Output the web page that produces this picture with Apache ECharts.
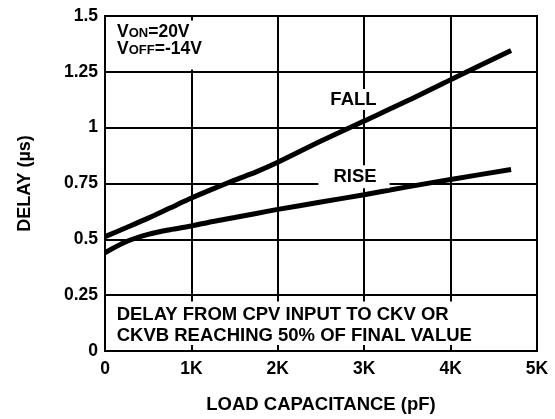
<!DOCTYPE html>
<html>
<head>
<meta charset="utf-8">
<script src="https://cdn.jsdelivr.net/npm/echarts@6/dist/echarts.min.js"></script>
<style>
  html, body { margin: 0; padding: 0; background: #fff; }
  #chart { width: 555px; height: 419px; }
</style>
</head>
<body>
<div id="chart"></div>
<script>
// load capacitance (pF) and delay (us)
const capacitance = [0, 250, 500, 750, 1000, 1250, 1500, 1750, 2000, 2500, 3000, 3500, 4000, 4700];
const fallDelay = [0.512, 0.553, 0.595, 0.64, 0.685, 0.726, 0.765, 0.802, 0.845, 0.94, 1.03, 1.12, 1.215, 1.345];
const riseDelay = [0.44, 0.49, 0.522, 0.543, 0.56, 0.58, 0.598, 0.616, 0.634, 0.667, 0.7, 0.735, 0.768, 0.8125];

const xTicks = ['0', '1K', '2K', '3K', '4K', '5K'];

const FONT = "'Liberation Sans', Arial, sans-serif";

const chart = echarts.init(document.getElementById('chart'));

const toPairs = (xs, ys) => xs.map((x, i) => [x, ys[i]]);

chart.setOption({
    animation: false,
    backgroundColor: '#fff',
    grid: {
        left: 105,
        right: 18,
        top: 16,
        bottom: 67,
        show: true,
        borderColor: '#000',
        borderWidth: 2
    },
    xAxis: {
        type: 'value',
        min: 0,
        max: 5000,
        interval: 1000,
        name: 'LOAD CAPACITANCE (pF)',
        nameLocation: 'middle',
        nameGap: 44,
        nameTextStyle: { color: '#000', fontFamily: FONT, fontWeight: 'bold', fontSize: 18.5 },
        axisLine: { show: true, lineStyle: { color: '#000', width: 2 } },
        axisTick: { show: false },
        axisLabel: {
            color: '#000', fontFamily: FONT, fontWeight: 'bold', fontSize: 17.5, margin: 9,
            formatter: (v) => xTicks[Math.round(v / 1000)]
        },
        splitLine: { show: true, lineStyle: { color: '#000', width: 2 } }
    },
    yAxis: {
        type: 'value',
        min: 0,
        max: 1.5,
        interval: 0.25,
        name: 'DELAY (µs)',
        nameLocation: 'middle',
        nameGap: 71,
        nameTextStyle: { color: '#000', fontFamily: FONT, fontWeight: 'bold', fontSize: 18 },
        axisLine: { show: true, lineStyle: { color: '#000', width: 2 } },
        axisTick: { show: false },
        axisLabel: { color: '#000', fontFamily: FONT, fontWeight: 'bold', fontSize: 17.5, margin: 7 },
        splitLine: { show: true, lineStyle: { color: '#000', width: 2 } }
    },
    series: [
        {
            name: 'FALL',
            type: 'line',
            z: 3,
            showSymbol: false,
            smooth: 0.3,
            data: toPairs(capacitance, fallDelay),
            lineStyle: { color: '#000', width: 5, cap: 'butt' }
        },
        {
            name: 'RISE',
            type: 'line',
            z: 3,
            showSymbol: false,
            smooth: 0.3,
            data: toPairs(capacitance, riseDelay),
            lineStyle: { color: '#000', width: 5, cap: 'butt' }
        }
    ]
});

// annotations placed in data coordinates, converted to pixels
const px = (x, y) => chart.convertToPixel({ gridIndex: 0 }, [x, y]);

const maskRect = (x0, y0, x1, y1) => {
    const a = px(x0, y0);
    const b = px(x1, y1);
    return {
        type: 'rect',
        z: 1,
        shape: { x: a[0], y: a[1], width: b[0] - a[0], height: b[1] - a[1] },
        style: { fill: '#fff' }
    };
};

const vPos = px(139, 1.468);
const fallPos = px(2876, 1.126);
const risePos = px(2882, 0.78);
const notePos = px(135, 0.207);

const boldText = { fontFamily: FONT, fontWeight: 'bold', fill: '#000' };

chart.setOption({
    graphic: [
        maskRect(20, 1.48, 1500, 1.26),
        maskRect(20, 0.222, 4975, 0.027),
        {
            type: 'text',
            z: 5,
            x: vPos[0],
            y: vPos[1],
            style: Object.assign({}, boldText, {
                text: '{v|V}{s|ON}{v|=20V}\n{v|V}{s|OFF}{v|=-14V}',
                verticalAlign: 'top',
                rich: {
                    v: { fontFamily: FONT, fontWeight: 'bold', fontSize: 17.5, lineHeight: 17, verticalAlign: 'top', fill: '#000' },
                    s: { fontFamily: FONT, fontWeight: 'bold', fontSize: 13, lineHeight: 12, verticalAlign: 'bottom', padding: [10, 0, 0, 0], fill: '#000' }
                }
            })
        },
        {
            type: 'text',
            z: 5,
            x: fallPos[0],
            y: fallPos[1],
            style: Object.assign({}, boldText, {
                text: 'FALL',
                fontSize: 18.5,
                align: 'center',
                verticalAlign: 'middle',
                backgroundColor: '#fff',
                padding: [1, 2]
            })
        },
        {
            type: 'text',
            z: 5,
            x: risePos[0],
            y: risePos[1],
            style: Object.assign({}, boldText, {
                text: 'RISE',
                fontSize: 18.5,
                align: 'center',
                verticalAlign: 'middle',
                backgroundColor: '#fff',
                padding: [2, 13, 2, 15]
            })
        },
        {
            type: 'text',
            z: 5,
            x: notePos[0],
            y: notePos[1],
            style: Object.assign({}, boldText, {
                text: 'DELAY FROM CPV INPUT TO CKV OR\nCKVB REACHING 50% OF FINAL VALUE',
                fontSize: 18.5,
                lineHeight: 21,
                verticalAlign: 'top'
            })
        }
    ]
});
</script>
</body>
</html>
